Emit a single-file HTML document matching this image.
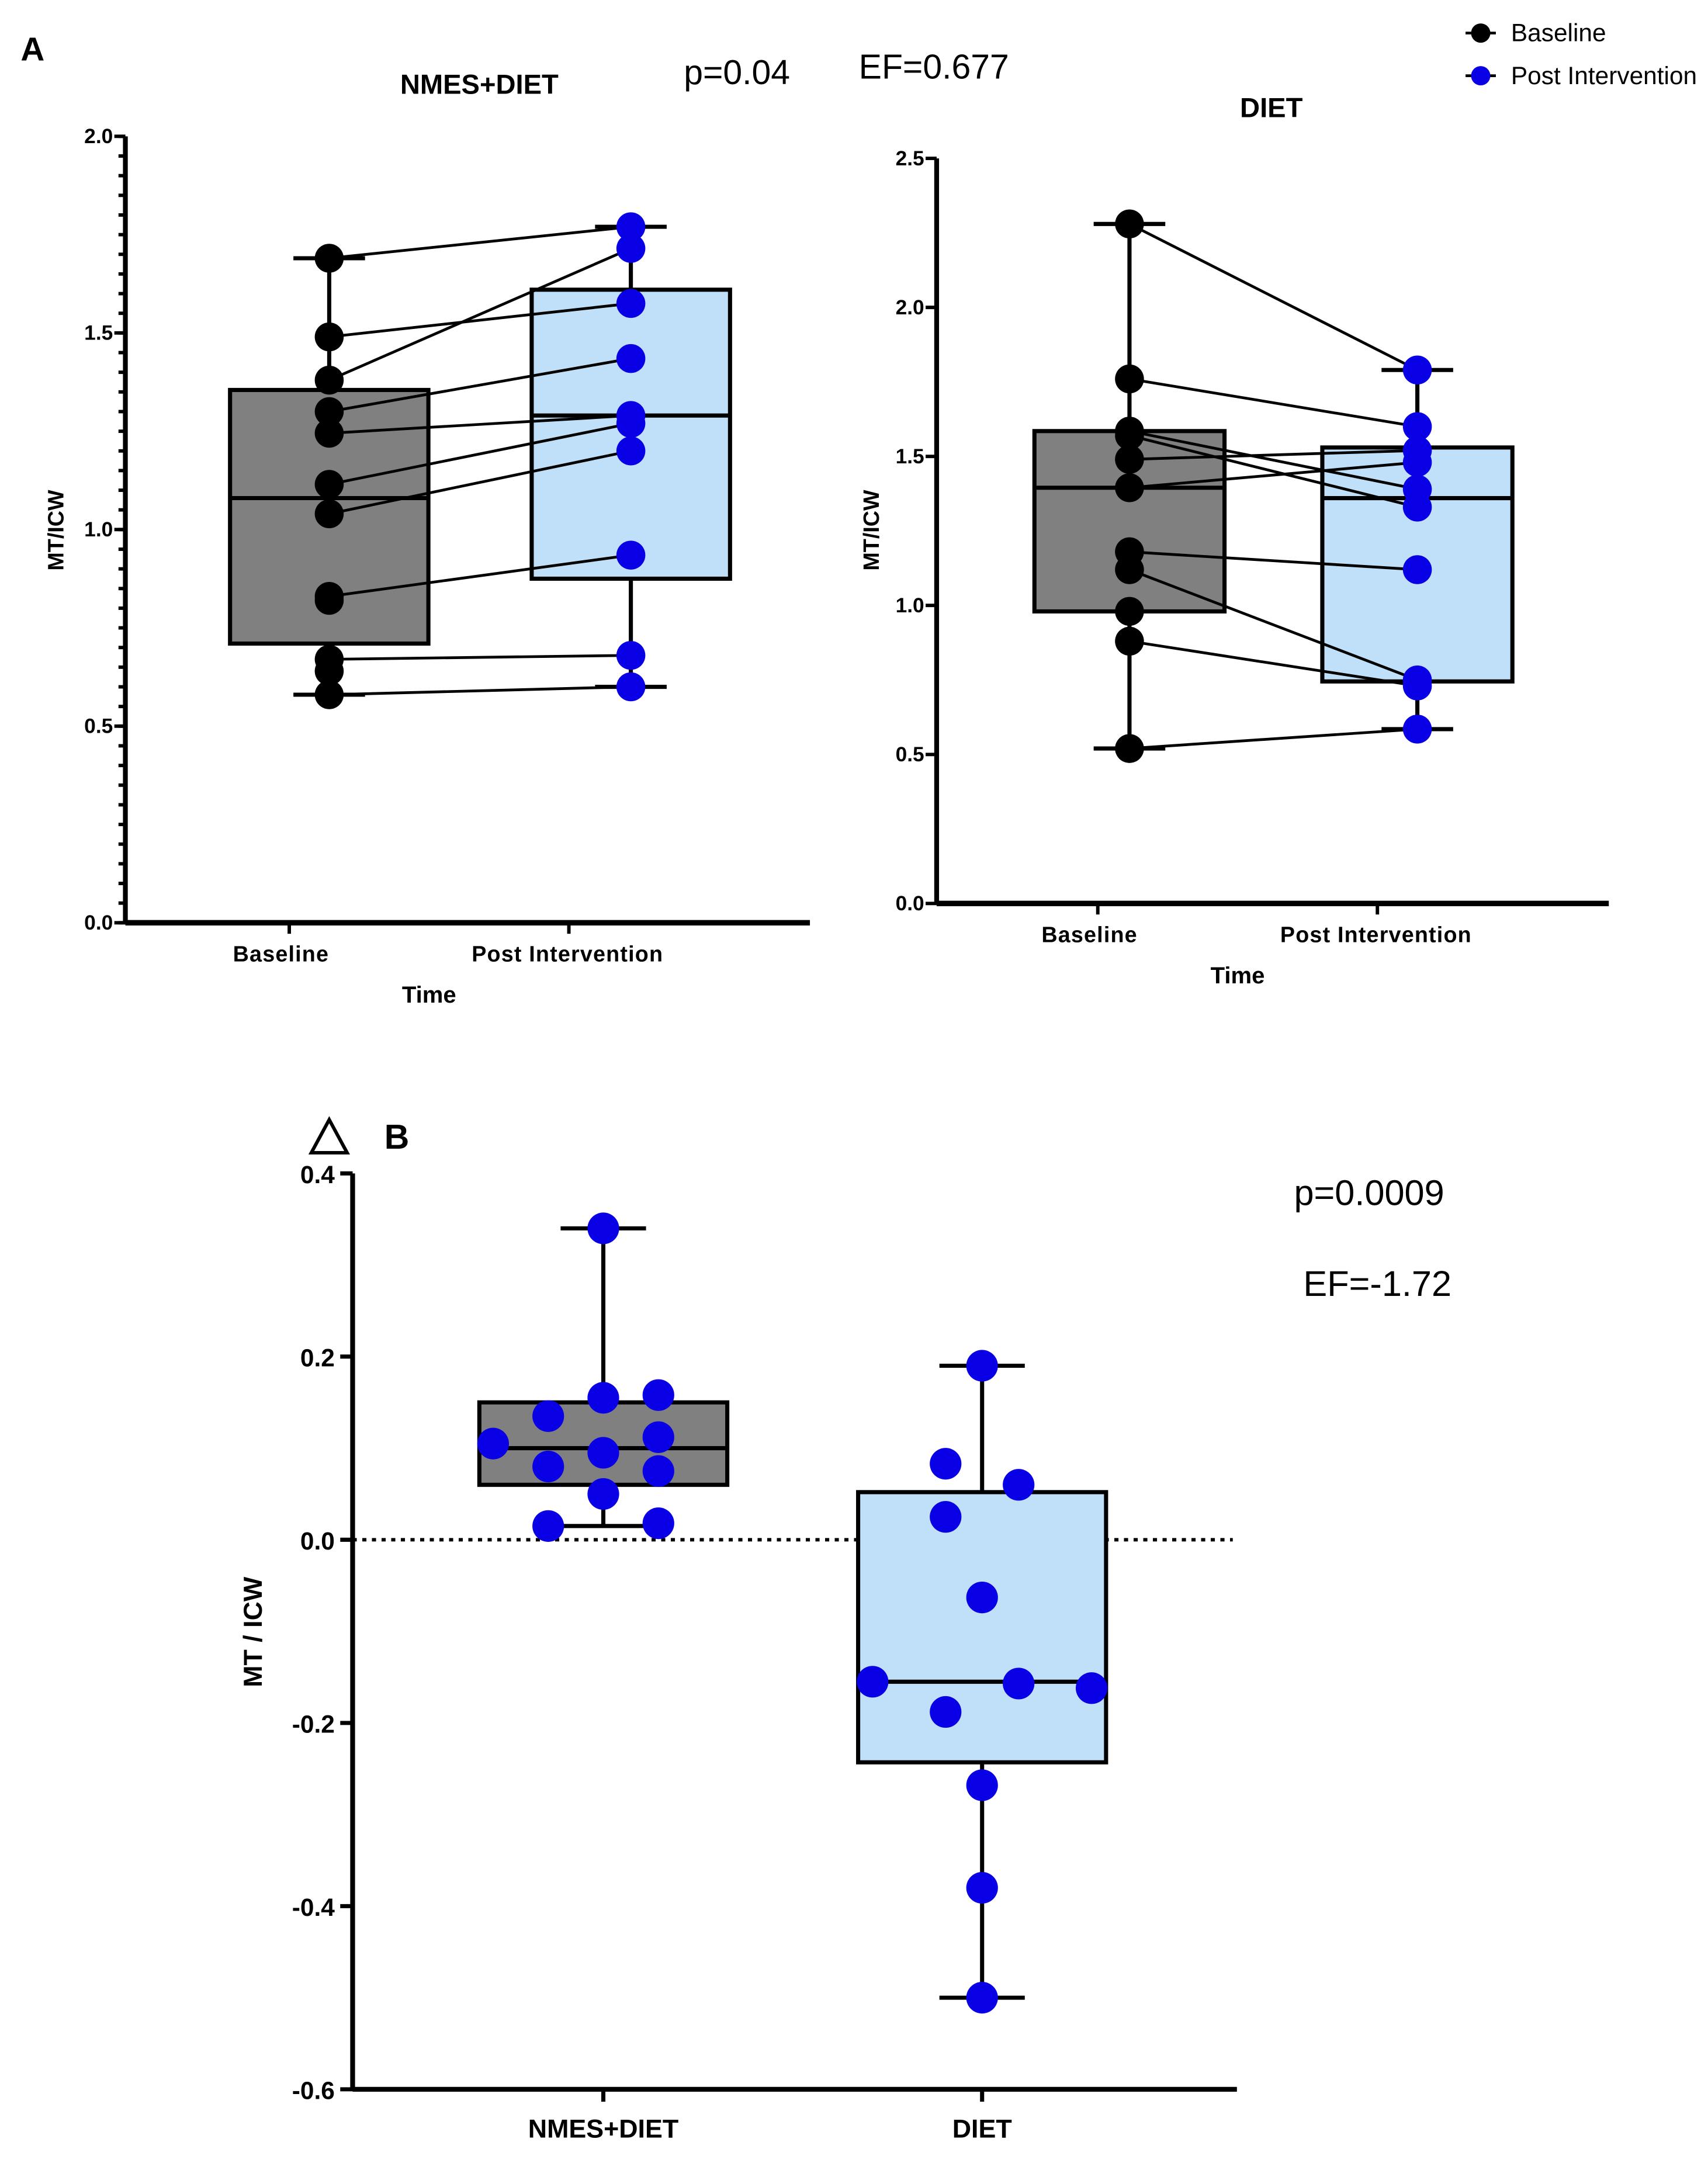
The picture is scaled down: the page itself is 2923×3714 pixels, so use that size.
<!DOCTYPE html>
<html><head><meta charset="utf-8"><style>
html,body{margin:0;padding:0;background:#fff}
svg{display:block;font-family:"Liberation Sans",Arial,sans-serif}
</style></head><body>
<svg id="fig" xmlns="http://www.w3.org/2000/svg" width="2923" height="3714" viewBox="0 0 1240 1575.6">
<rect width="1240" height="1576" fill="#fff"/>
<text x="15" y="44" font-size="24" font-weight="bold">A</text>
<text x="348" y="68" font-size="20" font-weight="bold" text-anchor="middle">NMES+DIET</text>
<text x="535" y="61" font-size="25" text-anchor="middle">p=0.04</text>
<text x="678" y="57" font-size="25" text-anchor="middle">EF=0.677</text>
<text x="923" y="85" font-size="20" font-weight="bold" text-anchor="middle">DIET</text>
<g>
<g><line x1="1064" y1="24" x2="1086" y2="24" stroke="#000" stroke-width="2"/><circle cx="1075" cy="24" r="7" fill="#000"/><text x="1097" y="30" font-size="18">Baseline</text></g>
<g><line x1="1064" y1="55" x2="1086" y2="55" stroke="#000" stroke-width="2"/><circle cx="1075" cy="55" r="7" fill="#0a00e6"/><text x="1097" y="61" font-size="18">Post Intervention</text></g>
</g>
<polygon points="226,837 239,813 252,837" fill="none" stroke="#000" stroke-width="2.5"/>
<text x="279" y="834" font-size="25" font-weight="bold">B</text>
<text x="994" y="875" font-size="26" text-anchor="middle">p=0.0009</text>
<text x="1000" y="941" font-size="26" text-anchor="middle">EF=-1.72</text>
<g id="chartA1"></g><g id="chartA2"></g><g id="chartB"></g>
</svg>
<script>
// Panel A left (NMES+DIET) paired data
const a1Baseline=[1.69,1.49,1.38,1.30,1.245,1.115,1.04,0.83,0.67,0.58,0.82,0.64];
const a1Post=[1.77,1.575,1.715,1.435,1.29,1.27,1.20,0.935,0.68,0.60];
const a1BoxBase=[0.58,0.71,1.08,1.355,1.69];
const a1BoxPost=[0.60,0.875,1.29,1.61,1.77];
const a1Ticks=[0.0,0.5,1.0,1.5,2.0];
// Panel A right (DIET)
const a2Baseline=[2.28,1.76,1.585,1.57,1.49,1.395,1.18,1.12,0.88,0.52,0.98];
const a2Post=[1.79,1.60,1.39,1.33,1.52,1.48,1.12,0.75,0.73,0.585];
const a2BoxBase=[0.52,0.98,1.395,1.585,2.28];
const a2BoxPost=[0.585,0.745,1.36,1.53,1.79];
const a2Ticks=[0.0,0.5,1.0,1.5,2.0,2.5];
// Panel B (delta)
const bCategories=["NMES+DIET","DIET"];
const bNmes=[0.105,0.135,0.08,0.015,0.34,0.155,0.095,0.05,0.158,0.112,0.075,0.018];
const bNmesJitter=[-2,-1,-1,-1,0,0,0,0,1,1,1,1];
const bDiet=[0.083,0.025,-0.188,-0.155,0.19,-0.063,-0.268,-0.38,-0.50,0.06,-0.157,-0.162];
const bDietJitter=[-1,-1,-1,-3,0,0,0,0,0,1,1,3];
const bBoxNmes=[0.015,0.06,0.10,0.15,0.34];
const bBoxDiet=[-0.50,-0.243,-0.155,0.052,0.19];
const bTicks=[-0.6,-0.4,-0.2,0.0,0.2,0.4];

const NS="http://www.w3.org/2000/svg";
function mk(p,t,a){const e=document.createElementNS(NS,t);for(const k in a)e.setAttribute(k,a[k]);p.appendChild(e);return e;}
function fmt(v){return v.toFixed(1);}

function drawBox(g,cx,hw,capw,s,y,fill,name){
  const bg=mk(g,'g',{});
  
  
  mk(bg,'line',{x1:cx,x2:cx,y1:y(s[0]),y2:y(s[4]),stroke:'#000','stroke-width':3});
  mk(bg,'line',{x1:cx-capw,x2:cx+capw,y1:y(s[0]),y2:y(s[0]),stroke:'#000','stroke-width':3});
  mk(bg,'line',{x1:cx-capw,x2:cx+capw,y1:y(s[4]),y2:y(s[4]),stroke:'#000','stroke-width':3});
  mk(bg,'rect',{x:cx-hw,y:y(s[3]),width:2*hw,height:y(s[1])-y(s[3]),fill:fill,stroke:'#000','stroke-width':3});
  mk(bg,'line',{x1:cx-hw,x2:cx+hw,y1:y(s[2]),y2:y(s[2]),stroke:'#000','stroke-width':3});
}

function panelA(id,cfg){
  const g=document.getElementById(id);
  const y=v=>cfg.y0+(cfg.y1-cfg.y0)*(v/cfg.max);
  const ax=mk(g,'g',{});
  
  
  mk(ax,'line',{x1:cfg.ax,x2:cfg.ax,y1:y(cfg.max),y2:y(0),stroke:'#000','stroke-width':3.5});
  if(cfg.minor){for(let v=0;v<=cfg.max+1e-9;v+=0.05){mk(ax,'line',{x1:cfg.ax-5,x2:cfg.ax,y1:y(v),y2:y(v),stroke:'#000','stroke-width':2.5});}}
  cfg.ticks.forEach(t=>{
    mk(ax,'line',{x1:cfg.ax-8,x2:cfg.ax,y1:y(t),y2:y(t),stroke:'#000','stroke-width':2.5});
    const tx=mk(ax,'text',{x:cfg.ax-9,y:y(t)+5,'font-size':15,'font-weight':'bold','text-anchor':'end'});
    
    
    tx.textContent=fmt(t);
  });
  const xa=mk(g,'line',{x1:cfg.ax,x2:cfg.xend,y1:y(0),y2:y(0),stroke:'#000','stroke-width':4});
  
  
  [cfg.tb,cfg.tp].forEach(x=>mk(g,'line',{x1:x,x2:x,y1:y(0),y2:y(0)+8,stroke:'#000','stroke-width':2.5}));
  const l1=mk(g,'text',{x:cfg.tb-6,y:y(0)+28,'font-size':16,'font-weight':'bold','text-anchor':'middle','letter-spacing':'0.5'});
  
  
  l1.textContent='Baseline';
  const l2=mk(g,'text',{x:cfg.tp-1,y:y(0)+28,'font-size':16,'font-weight':'bold','text-anchor':'middle','letter-spacing':'0.5'});
  
  
  l2.textContent='Post Intervention';
  const tt=mk(g,'text',{x:(cfg.tb+cfg.tp)/2,y:y(0)+58,'font-size':17,'font-weight':'bold','text-anchor':'middle'});
  
  
  tt.textContent='Time';
  const yt=mk(g,'text',{x:0,y:0,'font-size':16,'font-weight':'bold','text-anchor':'middle',transform:`translate(${cfg.ytx},${cfg.yty}) rotate(-90)`});
  
  
  yt.textContent='MT/ICW';
  drawBox(g,cfg.xb,cfg.hw,26,cfg.boxB,y,'#808080','box-baseline');
  drawBox(g,cfg.xp,cfg.hw,26,cfg.boxP,y,'#c0dff8','box-post');
  const n=Math.min(cfg.base.length,cfg.post.length);
  for(let i=0;i<n;i++){
    const ln=mk(g,'line',{x1:cfg.xb,y1:y(cfg.base[i]),x2:cfg.xp,y2:y(cfg.post[i]),stroke:'#000','stroke-width':2});
    
    
  }
  cfg.base.forEach(v=>{const c=mk(g,'circle',{cx:cfg.xb,cy:y(v),r:10.5,fill:'#000'});
    
    });
  cfg.post.forEach(v=>{const c=mk(g,'circle',{cx:cfg.xp,cy:y(v),r:10.5,fill:'#0a00e6'});
    
    });
}
panelA('chartA1',{pre:'nmes',y0:670,y1:99,max:2.0,ax:91,xend:588,xb:239,xp:458,tb:210,tp:413,hw:72,ticks:a1Ticks,minor:true,
  base:a1Baseline,post:a1Post,boxB:a1BoxBase,boxP:a1BoxPost,ytx:46,yty:385});
panelA('chartA2',{pre:'diet',y0:656,y1:115,max:2.5,ax:680,xend:1168,xb:820,xp:1029,tb:797,tp:1000,hw:69,ticks:a2Ticks,minor:false,
  base:a2Baseline,post:a2Post,boxB:a2BoxBase,boxP:a2BoxPost,ytx:638,yty:385});

// Panel B
(function(){
  const g=document.getElementById('chartB');
  const y=v=>1118-665*v;
  const xs=[438,713], sp=40, hw=90;
  const ax=mk(g,'g',{});
  
  
  mk(ax,'line',{x1:256,x2:256,y1:y(0.4),y2:y(-0.6),stroke:'#000','stroke-width':3.5});
  bTicks.forEach(t=>{
    mk(ax,'line',{x1:247,x2:256,y1:y(t),y2:y(t),stroke:'#000','stroke-width':3});
    const tx=mk(ax,'text',{x:243,y:y(t)+7,'font-size':18,'font-weight':'bold','text-anchor':'end'});
    
    
    tx.textContent=fmt(t);
  });
  const xa=mk(g,'line',{x1:256,x2:898,y1:y(-0.6),y2:y(-0.6),stroke:'#000','stroke-width':3.5});
  
  
  bCategories.forEach((c,i)=>{
    mk(g,'line',{x1:xs[i],x2:xs[i],y1:y(-0.6),y2:y(-0.6)+9,stroke:'#000','stroke-width':3});
    const t=mk(g,'text',{x:xs[i],y:y(-0.6)+35,'font-size':19,'font-weight':'bold','text-anchor':'middle'});
    
    
    t.textContent=c;
  });
  const yt=mk(g,'text',{x:0,y:0,'font-size':19,'font-weight':'bold','text-anchor':'middle',transform:'translate(190,1185) rotate(-90)'});
  
  
  yt.textContent='MT / ICW';
  const zl=mk(g,'line',{x1:256,x2:895,y1:y(0),y2:y(0),stroke:'#000','stroke-width':2.5,'stroke-dasharray':'3,4'});
  
  
  drawBox(g,xs[0],hw,31,bBoxNmes,y,'#808080','box-nmes-diet');
  drawBox(g,xs[1],hw,31,bBoxDiet,y,'#c0dff8','box-diet');
  bNmes.forEach((v,i)=>{const c=mk(g,'circle',{cx:xs[0]+bNmesJitter[i]*sp,cy:y(v),r:11.5,fill:'#0a00e6'});
    
    });
  bDiet.forEach((v,i)=>{const c=mk(g,'circle',{cx:xs[1]+bDietJitter[i]*26.5,cy:y(v),r:11.5,fill:'#0a00e6'});
    
    });
})();
</script>
</body></html>
